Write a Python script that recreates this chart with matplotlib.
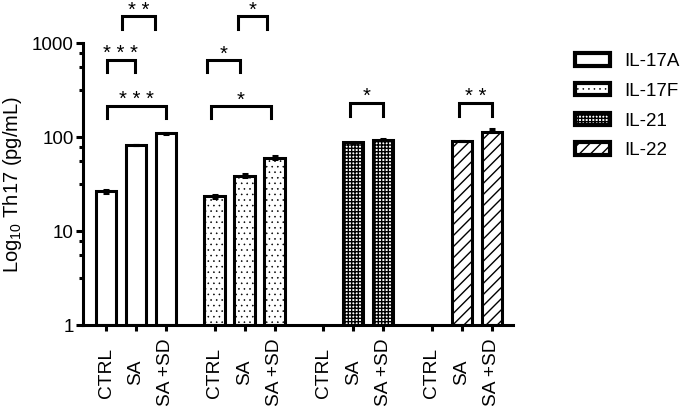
import numpy as np
import matplotlib
matplotlib.use("Agg")
import matplotlib.pyplot as plt
from matplotlib.patches import Patch
from matplotlib.ticker import FixedLocator, NullFormatter

plt.rcParams['font.family'] = ['Liberation Sans', 'DejaVu Sans']
plt.rcParams['mathtext.default'] = 'regular'
plt.rcParams['hatch.linewidth'] = 1.0

# ---- data ----
cytokines = ['IL-17A', 'IL-17F', 'IL-21', 'IL-22']
conditions = ['CTRL', 'SA', 'SA +SD']
il17a = [25.5, 82, 108]
il17a_err = [1.5, 1.0, 3.0]
il17f = [22.3, 37.6, 58.3]
il17f_err = [1.8, 3.0, 4.5]
il21 = [np.nan, 87, 92]
il21_err = [np.nan, 1.0, 2.5]
il22 = [np.nan, 90.5, 112.7]
il22_err = [np.nan, 1.0, 8.0]
means = [il17a, il17f, il21, il22]
errs = [il17a_err, il17f_err, il21_err, il22_err]
hatches = ['', '...', '+++++', '///']

# significance: (group, cond_a, cond_b, stars)
sig_group = [0, 0, 0, 1, 1, 1, 2, 3]
sig_a = [0, 0, 1, 0, 0, 1, 1, 1]
sig_b = [1, 2, 2, 1, 2, 2, 2, 2]
sig_stars = ['***', '***', '**', '*', '*', '*', '*', '**']

# ---- layout / style ----
group_step = 3.63
bar_w = 0.68
lw = 2.2
# bracket geometry (display tweaks)
br_dx = [(0.02, -0.03), (0.02, 0.0), (-0.47, -0.37), (-0.26, -0.16),
         (-0.13, -0.13), (-0.23, -0.26), (-0.11, 0.01), (-0.09, 0.0)]
br_top = [662, 215, 1937, 662, 215, 1937, 232, 232]
br_leg = [486, 158, 1410, 486, 158, 1410, 166, 166]


def thin_dots(patch, h):
    if h == '...':
        try:
            patch.set_hatch_linewidth(0.4)
        except Exception:
            pass


fig = plt.figure(figsize=(6.85, 4.15), dpi=100)
ax = fig.add_axes([83/685, 1-325/415, 430/685, 282/415])

positions = []
for g, (m, e, h) in enumerate(zip(means, errs, hatches)):
    x = g*group_step + np.arange(len(conditions))
    positions.extend(list(x))
    m = np.array(m, dtype=float)
    e = np.array(e, dtype=float)
    bars = ax.bar(x, m, width=bar_w, bottom=1, facecolor='white', edgecolor='black',
                  linewidth=lw, hatch=h, zorder=2)
    for b in bars:
        thin_dots(b, h)
    ax.errorbar(x, m, yerr=[np.zeros_like(e), e], fmt='none', ecolor='black',
                elinewidth=lw, capsize=2.5, capthick=lw, zorder=3)

ax.set_yscale('log')
ax.set_ylim(1, 1000)
ax.set_xlim(-0.77, 13.6)
ax.set_yticks([1, 10, 100, 1000])
ax.set_yticklabels(['1', '10', '100', '1000'])
minors = [v*10**k for k in range(3) for v in (3.2, 5.5, 7.8)]
ax.yaxis.set_minor_locator(FixedLocator(minors))
ax.yaxis.set_minor_formatter(NullFormatter())

ax.set_xticks(positions)
ax.set_xticklabels(conditions*len(cytokines), rotation=90, fontsize=13.8)
for lbl in ax.get_xticklabels():
    lbl.set_va('center')
ax.tick_params(axis='x', direction='out', length=4.3, width=lw, pad=30)
ax.tick_params(axis='y', which='major', direction='out', length=5, width=lw,
               pad=1.5, labelsize=13.5)
ax.tick_params(axis='y', which='minor', direction='out', length=3.2, width=lw)

for s in ['top', 'right']:
    ax.spines[s].set_visible(False)
for s in ['left', 'bottom']:
    ax.spines[s].set_linewidth(lw)

ax.set_ylabel('Log$_{10}$ Th17 (pg/mL)', fontsize=14.5, labelpad=6)

for g, a, b, st, (d1, d2), yt, yl in zip(sig_group, sig_a, sig_b, sig_stars,
                                         br_dx, br_top, br_leg):
    x1 = g*group_step + a + d1
    x2 = g*group_step + b + d2
    ax.plot([x1, x1, x2, x2], [yl, yt, yt, yl], color='black', lw=lw,
            solid_joinstyle='miter', clip_on=False, zorder=4)
    ax.text((x1+x2)/2, yt*1.01, ' '.join(st), ha='center', va='baseline',
            fontsize=14.5, clip_on=False)

handles = []
for h in hatches:
    p = Patch(facecolor='white', edgecolor='black', linewidth=3, hatch=h)
    thin_dots(p, h)
    handles.append(p)
leg = fig.legend(handles, cytokines, loc='upper left',
                 bbox_to_anchor=(575/685, 1-53/415), frameon=False, borderpad=0,
                 borderaxespad=0, fontsize=13.5, handlelength=1.85,
                 handleheight=0.65, handletextpad=0.8, labelspacing=0.68)
for lp, h in zip(leg.get_patches(), hatches):
    thin_dots(lp, h)

fig.savefig('out.png', dpi=100)
